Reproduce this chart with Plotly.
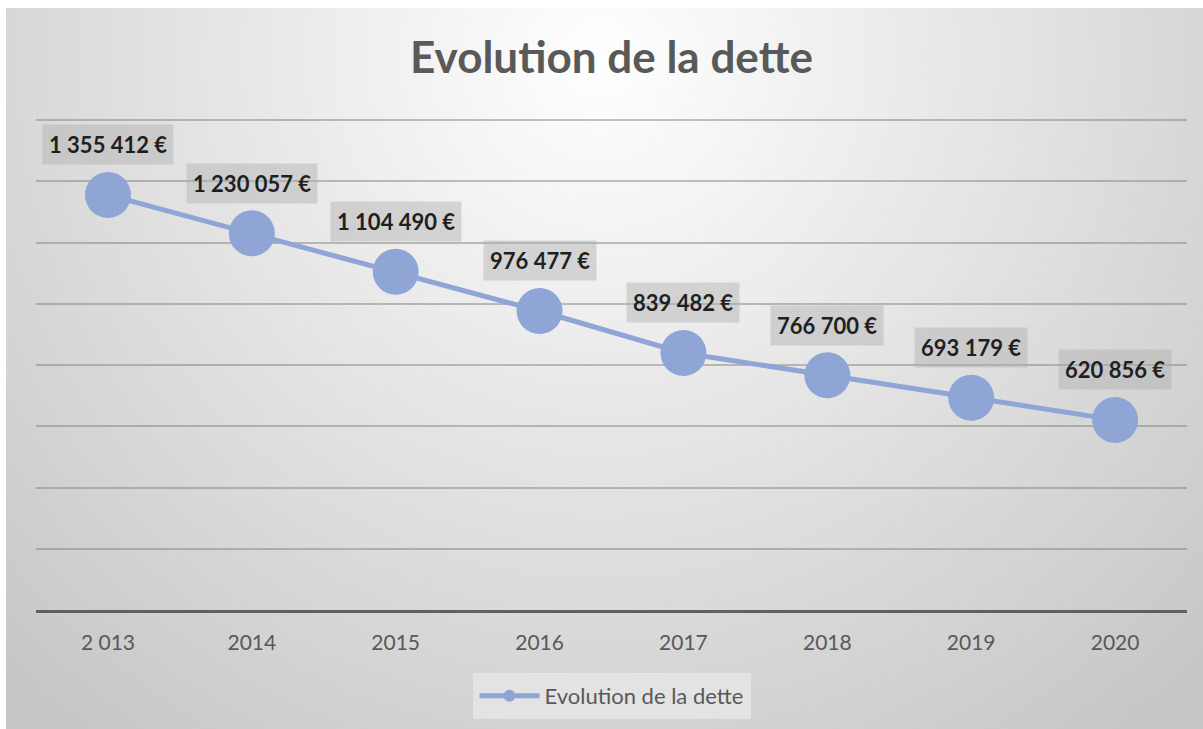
import plotly.graph_objects as go
import urllib.parse

# ---- data ----
years = ["2 013", "2014", "2015", "2016", "2017", "2018", "2019", "2020"]
dette = [1355412, 1230057, 1104490, 976477, 839482, 766700, 693179, 620856]
labels = ["1 355 412 €", "1 230 057 €", "1 104 490 €", "976 477 €",
          "839 482 €", "766 700 €", "693 179 €", "620 856 €"]
series_name = "Evolution de la dette"
title_text = "Evolution de la dette"

W, H = 1203, 729
L, R, T, B = 36, 16, 117, 119
pw, ph = W - L - R, H - T - B
OX, OY = 6, 8  # white strip of the chart frame (left, top)

line_col = "#8EA5D6"
txt_col = "#595959"

# radial gradient background as an SVG image
iw, ih = W - OX, H - OY
svg = (
    f"<svg xmlns='http://www.w3.org/2000/svg' width='{iw}' height='{ih}' "
    f"viewBox='0 0 {iw} {ih}' preserveAspectRatio='none'>"
    "<defs><radialGradient id='g' gradientUnits='userSpaceOnUse' "
    "cx='594' cy='50' r='860'>"
    "<stop offset='0' stop-color='#ffffff'/>"
    "<stop offset='1' stop-color='#c6c6c6'/>"
    "</radialGradient></defs>"
    f"<rect x='0' y='0' width='{iw}' height='{ih}' fill='url(#g)'/></svg>"
)
src = "data:image/svg+xml;charset=utf-8," + urllib.parse.quote(svg)

fig = go.Figure()
fig.add_trace(go.Scatter(
    x=years, y=dette, mode="lines+markers", name=series_name,
    line=dict(color=line_col, width=5),
    marker=dict(color=line_col, size=46),
    showlegend=True,
))

for i, (yv, lab) in enumerate(zip(dette, labels)):
    fig.add_annotation(
        x=i, y=yv, xref="x", yref="y", text=f"<b>{lab}</b>",
        showarrow=False, yshift=50, yanchor="middle", xanchor="center",
        font=dict(family="Lato", size=22, color="#1f1f1f"),
        bgcolor="rgba(175,175,175,0.45)", borderpad=6,
    )

fig.add_layout_image(dict(
    source=src, xref="paper", yref="paper",
    x=(OX - L) / pw, y=(H - B - OY) / ph,
    sizex=iw / pw, sizey=ih / ph,
    sizing="stretch", xanchor="left", yanchor="top", layer="below",
))

fig.update_layout(
    width=W, height=H,
    margin=dict(l=L, r=R, t=T, b=B, autoexpand=False),
    paper_bgcolor="white",
    plot_bgcolor="rgba(0,0,0,0)",
    title=dict(text=f"<b>{title_text}</b>", x=0.5, xref="paper",
               y=1 - 58 / H, yref="container", yanchor="middle", xanchor="center",
               font=dict(family="Lato", size=44, color=txt_col)),
    xaxis=dict(type="category", showgrid=False, showline=True,
               linecolor="#606060", linewidth=3, ticks="",
               ticklabelstandoff=12,
               tickfont=dict(family="Lato", size=21, color=txt_col),
               range=[-0.5, len(years) - 0.5]),
    yaxis=dict(range=[0, 1610000], tick0=0, dtick=200000, showticklabels=False,
               showgrid=True, gridcolor="rgba(120,120,120,0.45)", gridwidth=1.5,
               zeroline=False, showline=False, fixedrange=True),
    legend=dict(orientation="h", x=0.5, xanchor="center",
                y=(H - B - 673) / ph, yanchor="top",
                bgcolor="#e3e3e3", bordercolor="#e3e3e3", borderwidth=2,
                font=dict(family="Lato", size=22, color=txt_col),
                itemsizing="constant", itemwidth=60),
    showlegend=True,
)

fig.write_html(
    "out.html",
    config={"displayModeBar": False},
    post_script="document.body.style.margin='0';document.body.style.overflow='hidden';",
)
